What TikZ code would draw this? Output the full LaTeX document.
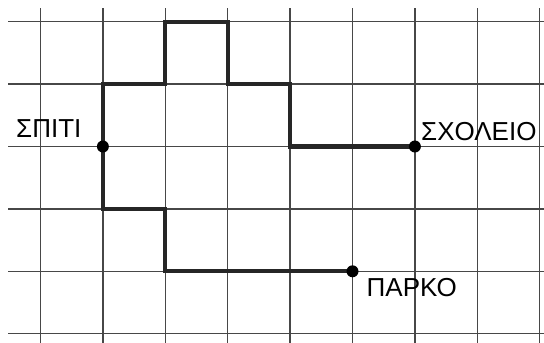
\documentclass[tikz,border=0pt]{standalone}
\usepackage{fontspec}
\setmainfont{Liberation Sans}
\begin{document}
\begin{tikzpicture}[x=1pt,y=-1pt,
  gridline/.style={draw=black!72,line width=1.3pt},
  route/.style={draw=black!85,line width=4.3pt,line join=miter},
  dot/.style={circle,fill=black,inner sep=0pt,minimum size=12pt},
  lbl/.style={font=\fontsize{26}{26}\selectfont,inner sep=0pt,anchor=base west}]
\useasboundingbox (0,0) rectangle (544,343);
% grid
\foreach \x in {40.5,102.9,165.3,227.7,290.1,352.5,414.9,477.3,539.7}
  \draw[gridline] (\x,8) -- (\x,343);
\foreach \y in {21.7,84.1,146.5,208.9,271.3,333.7}
  \draw[gridline] (8,\y) -- (544,\y);
% key points
\coordinate (home) at (102.9,146.5);
\coordinate (school) at (414.9,146.5);
\coordinate (park) at (352.5,271.3);
\coordinate (c1) at (102.9,84.1);
\coordinate (c2) at (165.3,84.1);
\coordinate (c3) at (165.3,21.7);
\coordinate (c4) at (227.7,21.7);
\coordinate (c5) at (227.7,84.1);
\coordinate (c6) at (290.1,84.1);
\coordinate (c7) at (290.1,146.5);
\coordinate (d1) at (102.9,208.9);
\coordinate (d2) at (165.3,208.9);
\coordinate (d3) at (165.3,271.3);
% routes
\draw[route] (home) -- (c1) -- (c2) -- (c3) -- (c4) -- (c5) -- (c6) -- (c7) -- (school);
\draw[route] (home) -- (d1) -- (d2) -- (d3) -- (park);
% dots
\node[dot] (homedot) at (home) {};
\node[dot] (schooldot) at (school) {};
\node[dot] (parkdot) at (park) {};
% labels
\node[lbl] (homelbl) at (16,137.8) {ΣΠΙΤΙ};
\node[lbl] (schoollbl) at (421,140) {ΣΧΟΛΕΙΟ};
\node[lbl] (parklbl) at (366.5,296.7) {ΠΑΡΚΟ};
\end{tikzpicture}
\end{document}
